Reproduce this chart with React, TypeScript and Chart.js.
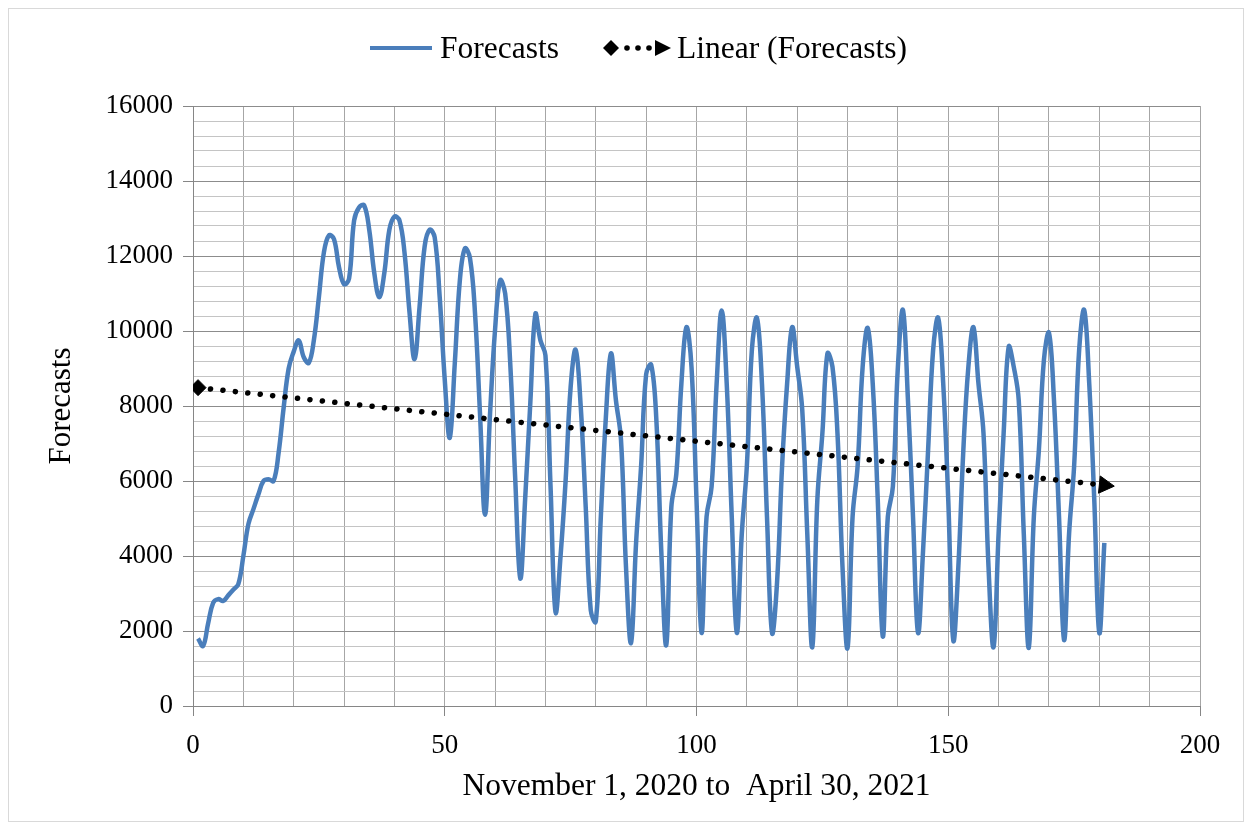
import { useEffect, useRef } from "react";
import { Chart, registerables } from "chart.js";

Chart.register(...registerables);

// ---- data ----
const days: number[] = [
  1, 2, 3, 4, 5, 6, 7, 8, 9, 10, 11, 12, 13, 14, 15, 16, 17, 18, 19, 20,
  21, 22, 23, 24, 25, 26, 27, 28, 29, 30, 31, 32, 33, 34, 35, 36, 37, 38, 39, 40,
  41, 42, 43, 44, 45, 46, 47, 48, 49, 50, 51, 52, 53, 54, 55, 56, 57, 58, 59, 60,
  61, 62, 63, 64, 65, 66, 67, 68, 69, 70, 71, 72, 73, 74, 75, 76, 77, 78, 79, 80,
  81, 82, 83, 84, 85, 86, 87, 88, 89, 90, 91, 92, 93, 94, 95, 96, 97, 98, 99, 100,
  101, 102, 103, 104, 105, 106, 107, 108, 109, 110, 111, 112, 113, 114, 115, 116, 117, 118, 119, 120,
  121, 122, 123, 124, 125, 126, 127, 128, 129, 130, 131, 132, 133, 134, 135, 136, 137, 138, 139, 140,
  141, 142, 143, 144, 145, 146, 147, 148, 149, 150, 151, 152, 153, 154, 155, 156, 157, 158, 159, 160,
  161, 162, 163, 164, 165, 166, 167, 168, 169, 170, 171, 172, 173, 174, 175, 176, 177, 178, 179, 180,
  181,
];

const forecasts: number[] = [
  1800, 1600, 2200, 2750, 2850, 2800, 2950, 3100, 3250, 4000,
  4850, 5250, 5650, 6000, 6050, 6000, 6750, 7950, 9000, 9450,
  9750, 9300, 9150, 9750, 10900, 12100, 12550, 12450, 11700, 11250,
  11400, 12950, 13300, 13350, 12700, 11550, 10900, 11550, 12700, 13050,
  12950, 12100, 10500, 9250, 10650, 12250, 12700, 12500, 10900, 8700,
  7150, 9150, 11350, 12200, 11950, 10500, 7800, 5100, 7800, 10050,
  11350, 11000, 9150, 6050, 3400, 5600, 8100, 10450, 9750, 9350,
  5900, 2500, 4000, 6000, 8500, 9500, 8000, 5300, 2550, 2250,
  5050, 7700, 9400, 8150, 7100, 3700, 1680, 4350, 6400, 8850,
  9100, 7700, 4150, 1630, 5300, 6200, 8600, 10100, 9050, 5500,
  1950, 5050, 5850, 8600, 10550, 8600, 5050, 1950, 4600, 6400,
  9500, 10350, 8600, 5050, 1950, 3300, 6400, 8600, 10100, 9050,
  7900, 4600, 1570, 5500, 7270, 9400, 9050, 7270, 3700, 1550,
  5050, 6400, 9050, 10080, 8600, 5500, 1850, 5050, 5850, 9050,
  10560, 8150, 5050, 1950, 4150, 6830, 9500, 10350, 8600, 5500,
  1750, 3700, 6830, 9050, 10100, 8600, 7270, 3700, 1570, 4600,
  7270, 9580, 9050, 8150, 4600, 1550, 5050, 6830, 9230, 9950,
  8150, 5050, 1760, 4600, 6400, 9500, 10560, 8600, 5500, 1950,
  4350,
];

const trendDays: number[] = [1, 181];
const trendValues: number[] = [8490, 5890];

const xLabelTicks: number[] = [0, 50, 100, 150, 200];
const yLabelTicks: number[] = [0, 2000, 4000, 6000, 8000, 10000, 12000, 14000, 16000];

const seriesName = "Forecasts";
const trendName = "Linear (Forecasts)";
const xTitle = "November 1, 2020 to  April 30, 2021";
const yTitle = "Forecasts";

const FONT = '"Liberation Serif", "Times New Roman", serif';
const BLUE = "#4a7ebb";

export default function App() {
  const ref = useRef<HTMLCanvasElement>(null);

  useEffect(() => {
    const canvas = ref.current;
    if (!canvas) return;
    const forecastPoints = days.map((d, i) => ({ x: d, y: forecasts[i] }));
    const trendPoints = trendDays.map((d, i) => ({ x: d, y: trendValues[i] }));

    const chart = new Chart(canvas, {
      type: "line",
      data: {
        datasets: [
          {
            label: trendName,
            data: trendPoints,
            order: 0,
            borderColor: "#000000",
            backgroundColor: "#000000",
            borderWidth: 5.5,
            borderDash: [0.1, 12.4],
            borderCapStyle: "round",
            pointStyle: ["rectRot", "triangle"],
            pointRadius: [8, 10],
            pointRotation: [0, 96],
            pointBorderWidth: 1,
            pointBackgroundColor: "#000000",
            pointBorderColor: "#000000",
            tension: 0,
          } as any,
          {
            label: seriesName,
            data: forecastPoints,
            order: 1,
            borderColor: BLUE,
            backgroundColor: BLUE,
            borderWidth: 4.5,
            pointRadius: 0,
            tension: 0.4,
            cubicInterpolationMode: "default",
          } as any,
        ],
      },
      options: {
        responsive: false,
        animation: false,
        devicePixelRatio: 1,
        layout: { padding: { top: 97, right: 43, bottom: 0, left: 0 } },
        plugins: {
          legend: { display: false },
          tooltip: { enabled: false },
        },
        scales: {
          x: {
            type: "linear",
            min: 0,
            max: 200,
            afterFit: (s: any) => {
              s.height = 115;
            },
            ticks: {
              stepSize: 10,
              autoSkip: false,
              maxRotation: 0,
              color: "#000",
              padding: 14,
              font: { family: FONT, size: 27 },
              callback: (v: any) => (xLabelTicks.includes(Number(v)) ? String(v) : ""),
            },
            grid: {
              color: "#a6a6a6",
              lineWidth: 1,
              tickLength: 10,
              tickColor: (ctx: any) =>
                ctx.tick && xLabelTicks.includes(ctx.tick.value) ? "#868686" : "rgba(0,0,0,0)",
            },
            border: { color: "#868686", width: 1 },
            title: {
              display: true,
              text: xTitle,
              color: "#000",
              font: { family: FONT, size: 31.5 },
              padding: { top: 0, bottom: 15 },
            },
          },
          y: {
            type: "linear",
            min: 0,
            max: 16000,
            afterFit: (s: any) => {
              s.width = 184;
            },
            ticks: {
              stepSize: 400,
              autoSkip: false,
              color: "#000",
              padding: 10,
              font: { family: FONT, size: 27 },
              callback: (v: any) => (yLabelTicks.includes(Number(v)) ? String(v) : ""),
            },
            grid: {
              color: (ctx: any) =>
                ctx.tick && yLabelTicks.includes(ctx.tick.value) ? "#8c8c8c" : "#c4c4c4",
              lineWidth: 1,
              tickLength: 10,
              tickColor: (ctx: any) =>
                ctx.tick && yLabelTicks.includes(ctx.tick.value) ? "#868686" : "rgba(0,0,0,0)",
            },
            border: { color: "#868686", width: 1 },
            title: {
              display: true,
              text: yTitle,
              color: "#000",
              font: { family: FONT, size: 31 },
              padding: { top: 34, bottom: 0 },
            },
          },
        },
      } as any,
    });
    return () => chart.destroy();
  }, []);

  return (
    <div
      style={{
        position: "relative",
        width: 1236,
        height: 814,
        boxSizing: "border-box",
        border: "1px solid #d9d9d9",
        background: "#fff",
      }}
    >
      <canvas ref={ref} width={1234} height={812} style={{ display: "block", width: 1234, height: 812 }} />
      <div
        style={{
          position: "absolute",
          left: 361,
          top: 19,
          height: 40,
          display: "flex",
          alignItems: "center",
          fontFamily: FONT,
          fontSize: 31.5,
          color: "#000",
          whiteSpace: "pre",
        }}
      >
        <svg width={62} height={14} style={{ marginRight: 8 }}>
          <line x1={0} y1={7} x2={62} y2={7} stroke={BLUE} strokeWidth={4} />
        </svg>
        <span>{seriesName}</span>
        <svg width={68} height={20} style={{ marginLeft: 44, marginRight: 6 }}>
          <polygon points="0,10 8,2 16,10 8,18" fill="#000" />
          <circle cx={24} cy={10} r={2.8} fill="#000" />
          <circle cx={35} cy={10} r={2.8} fill="#000" />
          <circle cx={46} cy={10} r={2.8} fill="#000" />
          <polygon points="52,2 68,10 52,18" fill="#000" />
        </svg>
        <span>{trendName}</span>
      </div>
    </div>
  );
}
